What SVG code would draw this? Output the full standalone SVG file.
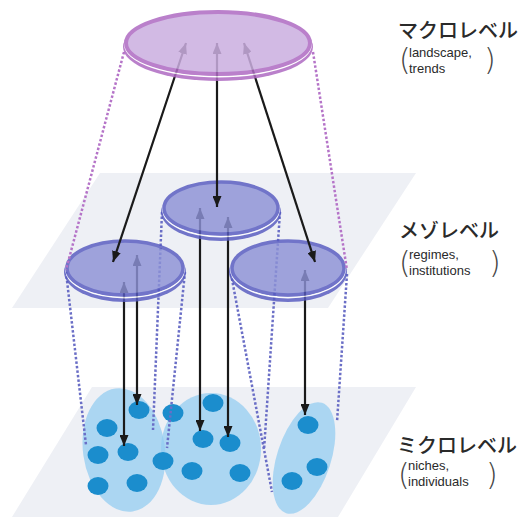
<svg xmlns="http://www.w3.org/2000/svg" width="522" height="522" viewBox="0 0 522 522">
<defs>
<style>
.plane{fill:#eef0f5}
.blob{fill:#92ccf1;opacity:0.72}
.dot{fill:#1b8dcd}
.bdot{fill:none;stroke:#6a6ec6;stroke-width:2.5;stroke-dasharray:2.5 2}
.pdot{fill:none;stroke:#b574c8;stroke-width:2.5;stroke-dasharray:2.5 2}
.arr{fill:none;stroke:#1a1a1a;stroke-width:2.2;marker-start:url(#ah);marker-end:url(#ah)}
.mrim{fill:#565ac0}
.mtop{fill:#8d92d6;stroke:#565ac0;stroke-width:3.5}
.white{fill:none;stroke:#ffffff;stroke-width:1.8}
.krim{fill:#ae6ac2}
.ktop{fill:#cbaee0;stroke:#ae6ac2;stroke-width:4}
.jp{font-family:"Noto Sans CJK JP","Noto Sans",sans-serif;font-size:20px;font-weight:500;fill:#2a2a2a}
.en{font-family:"Liberation Sans",Arial,sans-serif;font-size:13px;fill:#2a2a2a}
.par{font-family:"DejaVu Sans","Liberation Sans",sans-serif;font-size:30px;fill:#444;font-weight:200}
</style>
<marker id="ah" viewBox="0 0 11 9" refX="11" refY="4.5" markerWidth="11" markerHeight="9" markerUnits="userSpaceOnUse" orient="auto-start-reverse">
<path d="M0,0 L11,4.5 L0,9 z" fill="#1a1a1a"/>
</marker>
</defs>
<rect width="522" height="522" fill="#ffffff"/>
<g id="planes">
<polygon class="plane" points="100,173 416,173 328,308 12,308"/>
<polygon class="plane" points="92,387 416,387 338,517 12,517"/>
</g>
<g id="micro-left">
<ellipse class="blob" cx="124" cy="450" rx="41" ry="62" transform="rotate(-8 124 450)"/>
<ellipse class="dot" cx="139" cy="410" rx="10.5" ry="9"/>
<ellipse class="dot" cx="107" cy="428" rx="10.5" ry="9"/>
<ellipse class="dot" cx="98" cy="455" rx="10.5" ry="9"/>
<ellipse class="dot" cx="128" cy="452" rx="10.5" ry="9"/>
<ellipse class="dot" cx="98" cy="486" rx="10.5" ry="9"/>
<ellipse class="dot" cx="137" cy="483" rx="10.5" ry="9"/>
</g>
<g id="micro-center">
<ellipse class="blob" cx="211" cy="449" rx="50" ry="56"/>
<ellipse class="dot" cx="173" cy="413" rx="10.5" ry="9"/>
<ellipse class="dot" cx="213" cy="403" rx="10.5" ry="9"/>
<ellipse class="dot" cx="203" cy="439" rx="10.5" ry="9"/>
<ellipse class="dot" cx="230" cy="443" rx="10.5" ry="9"/>
<ellipse class="dot" cx="163" cy="461" rx="10.5" ry="9"/>
<ellipse class="dot" cx="192" cy="471" rx="10.5" ry="9"/>
<ellipse class="dot" cx="240" cy="473" rx="10.5" ry="9"/>
</g>
<g id="micro-right">
<ellipse class="blob" cx="304" cy="458" rx="27" ry="58" transform="rotate(18 304 458)"/>
<ellipse class="dot" cx="308" cy="425" rx="10.5" ry="9"/>
<ellipse class="dot" cx="317" cy="467" rx="10.5" ry="9"/>
<ellipse class="dot" cx="292" cy="481" rx="10.5" ry="9"/>
</g>
<g id="connectors-lower">
<path class="bdot" d="M66,272 L86,445"/>
<path class="bdot" d="M185,272 L167,448"/>
<path class="bdot" d="M162,212 L153,430"/>
<path class="bdot" d="M280,212 L264,450"/>
<path class="bdot" d="M231,274 L272,492"/>
<path class="bdot" d="M347,274 L337,422"/>
<path class="arr" d="M124,446 L124,282"/>
<path class="arr" d="M137,405 L137,255"/>
<path class="arr" d="M200,431 L200,208"/>
<path class="arr" d="M228,437 L228,217"/>
<path class="arr" d="M305,415 L305,270"/>
</g>
<g id="meso-center" opacity="0.82">
<ellipse class="mrim" cx="221" cy="212" rx="60" ry="29"/>
<ellipse class="white" cx="221" cy="209.5" rx="58" ry="27"/>
<ellipse class="mtop" cx="221" cy="208" rx="57" ry="26"/>
</g>
<g id="meso-left" opacity="0.82">
<ellipse class="mrim" cx="125" cy="272" rx="61" ry="30"/>
<ellipse class="white" cx="125" cy="269.5" rx="59" ry="28"/>
<ellipse class="mtop" cx="125" cy="268" rx="58" ry="27"/>
</g>
<g id="meso-right" opacity="0.82">
<ellipse class="mrim" cx="288" cy="272" rx="59" ry="30"/>
<ellipse class="white" cx="288" cy="269.5" rx="57" ry="28"/>
<ellipse class="mtop" cx="288" cy="268" rx="56" ry="27"/>
</g>
<g id="connectors-upper">
<path class="pdot" d="M124,52 L66,270"/>
<path class="pdot" d="M313,52 L347,270"/>
<path class="arr" d="M113,262 L186,43"/>
<path class="arr" d="M217,207 L217,43"/>
<path class="arr" d="M315,262 L244,43"/>
</g>
<g id="macro" opacity="0.85">
<ellipse class="krim" cx="218" cy="47" rx="95" ry="34"/>
<ellipse class="white" cx="218" cy="44.5" rx="93" ry="32"/>
<ellipse class="ktop" cx="218" cy="43" rx="92" ry="31"/>
</g>
<g id="label-macro">
<text class="jp" x="398" y="38">マクロレベル</text>
<text class="par" x="399" y="70">(</text>
<text class="en" x="409" y="57">landscape,</text>
<text class="en" x="409" y="73">trends</text>
<text class="par" x="484" y="70">)</text>
</g>
<g id="label-meso">
<text class="jp" x="399" y="238">メゾレベル</text>
<text class="par" x="399" y="273">(</text>
<text class="en" x="409" y="259">regimes,</text>
<text class="en" x="409" y="275">institutions</text>
<text class="par" x="489" y="273">)</text>
</g>
<g id="label-micro">
<text class="jp" x="397" y="453">ミクロレベル</text>
<text class="par" x="398" y="485">(</text>
<text class="en" x="408" y="470">niches,</text>
<text class="en" x="408" y="486">individuals</text>
<text class="par" x="486" y="485">)</text>
</g>
</svg>
